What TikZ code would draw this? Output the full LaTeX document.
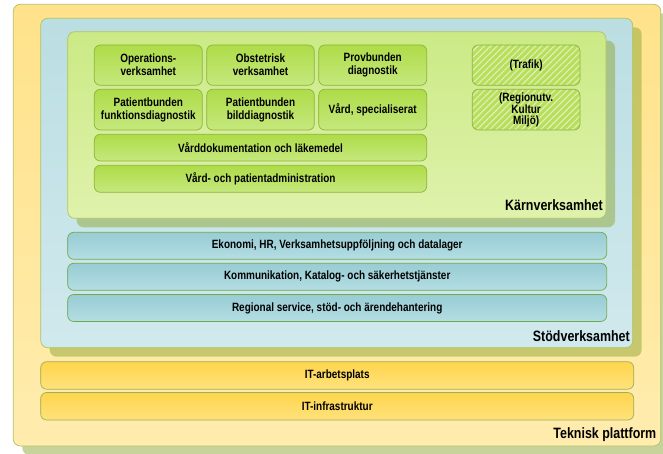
\documentclass[tikz,border=0pt]{standalone}
\usepackage{fontspec}
\newfontfamily\boxfont[FakeStretch=0.83]{Liberation Sans}
\usetikzlibrary{shadows}
\usetikzlibrary{patterns.meta}

\definecolor{tekTop}{HTML}{FFE28A}
\definecolor{tekBot}{HTML}{FFECAE}
\definecolor{stodTop}{HTML}{BBDEE3}
\definecolor{stodBot}{HTML}{D0E9ED}
\definecolor{karnTop}{HTML}{CBEA85}
\definecolor{karnBot}{HTML}{DFF2AC}
\definecolor{btnTop}{HTML}{AEDC48}
\definecolor{btnBot}{HTML}{C6E87E}
\definecolor{tealTop}{HTML}{98CCD4}
\definecolor{tealBot}{HTML}{B4DEE3}
\definecolor{gulTop}{HTML}{FFD54C}
\definecolor{gulBot}{HTML}{FFE27C}
\definecolor{hatchBase}{HTML}{B8DF5C}
\definecolor{plateLine}{HTML}{AFC264}
\definecolor{btnLine}{HTML}{8CB43C}
\definecolor{shadowC}{RGB}{145,168,55}

\tikzset{
  plate/.style={draw=plateLine, line width=.7pt, rounded corners=7pt,
    anchor=north west, inner sep=0pt, outer sep=0pt,
    drop shadow={shadow xshift=9pt, shadow yshift=-9pt, fill=shadowC, opacity=.5}},
  btnbase/.style={draw=btnLine, line width=.7pt, rounded corners=6pt,
    anchor=north west, inner sep=0pt, outer sep=0pt, align=center,
    font=\boxfont\bfseries\fontsize{12}{13}\selectfont},
  btn/.style={btnbase, top color=btnTop, bottom color=btnBot},
  hatchbtn/.style={btnbase, preaction={fill=hatchBase},
    pattern={Lines[angle=45, distance=4.5pt, line width=1.1pt]},
    pattern color=white!55!hatchBase, font=\boxfont\bfseries\fontsize{12}{11}\selectfont},
  tealrow/.style={btnbase, draw=btnLine!80!teal, top color=tealTop, bottom color=tealBot,
    minimum width=539pt, minimum height=27pt},
  gulrow/.style={btnbase, draw=plateLine!90!black, top color=gulTop, bottom color=gulBot,
    minimum width=593pt, minimum height=27.5pt},
  lbl/.style={anchor=base east, inner sep=0pt, font=\boxfont\bfseries\fontsize{15}{17}\selectfont}
}

\begin{document}
\begin{tikzpicture}[x=1pt, y=-1pt]
\useasboundingbox (0,0) rectangle (663,454);

% layers
\node[plate, top color=tekTop, bottom color=tekBot, minimum width=647.4pt, minimum height=441.7pt] (tek) at (13.3,4.3) {};
\node[plate, top color=stodTop, bottom color=stodBot, minimum width=592pt, minimum height=329.4pt] (stod) at (40.7,18.3) {};
\node[plate, top color=karnTop, bottom color=karnBot, minimum width=538.3pt, minimum height=186.6pt] (karn) at (67.7,31.7) {};

% karnverksamhet
\node[btn, minimum width=108pt, minimum height=40.3pt] (oper) at (94.3,45) {Operations-\\verksamhet};
\node[btn, minimum width=107.6pt, minimum height=40.3pt] (obst) at (206.7,45) {Obstetrisk\\verksamhet};
\node[btn, minimum width=108pt, minimum height=40.3pt] (prov) at (318.7,45) {Provbunden\\diagnostik};
\node[btn, minimum width=108pt, minimum height=40.7pt] (funk) at (94.3,89.3) {Patientbunden\\funktionsdiagnostik};
\node[btn, minimum width=107.6pt, minimum height=40.7pt] (bild) at (206.7,89.3) {Patientbunden\\bilddiagnostik};
\node[btn, minimum width=108pt, minimum height=40.7pt] (spec) at (318.7,89.3) {Vård, specialiserat};
\node[btn, minimum width=332.4pt, minimum height=26.7pt] (dok) at (94.3,134.3) {Vårddokumentation och läkemedel};
\node[btn, minimum width=332.4pt, minimum height=27pt] (adm) at (94.3,165.3) {Vård- och patientadministration};
\node[hatchbtn, minimum width=107.7pt, minimum height=40.3pt] (trafik) at (472.3,45) {(Trafik)};
\node[hatchbtn, minimum width=107.7pt, minimum height=40.7pt] (regutv) at (472.3,89.3) {(Regionutv.\\Kultur\\Miljö)};
\node[lbl] (karnlbl) at (603,210.5) {Kärnverksamhet};

% stodverksamhet
\foreach \nm/\yy/\txt in {eko/232.3/{Ekonomi, HR, Verksamhetsuppföljning och datalager},
    kom/263.3/{Kommunikation, Katalog- och säkerhetstjänster},
    reg/294.5/{Regional service, stöd- och ärendehantering}}
  \node[tealrow] (\nm) at (67.7,\yy) {\txt};
\node[lbl] (stodlbl) at (630,341.5) {Stödverksamhet};

% teknisk plattform
\node[gulrow] (arb) at (40.7,361.7) {IT-arbetsplats};
\node[gulrow] (infra) at (40.7,392.5) {IT-infrastruktur};
\node[lbl] (teklbl) at (656.5,438.5) {Teknisk plattform};
\end{tikzpicture}
\end{document}
